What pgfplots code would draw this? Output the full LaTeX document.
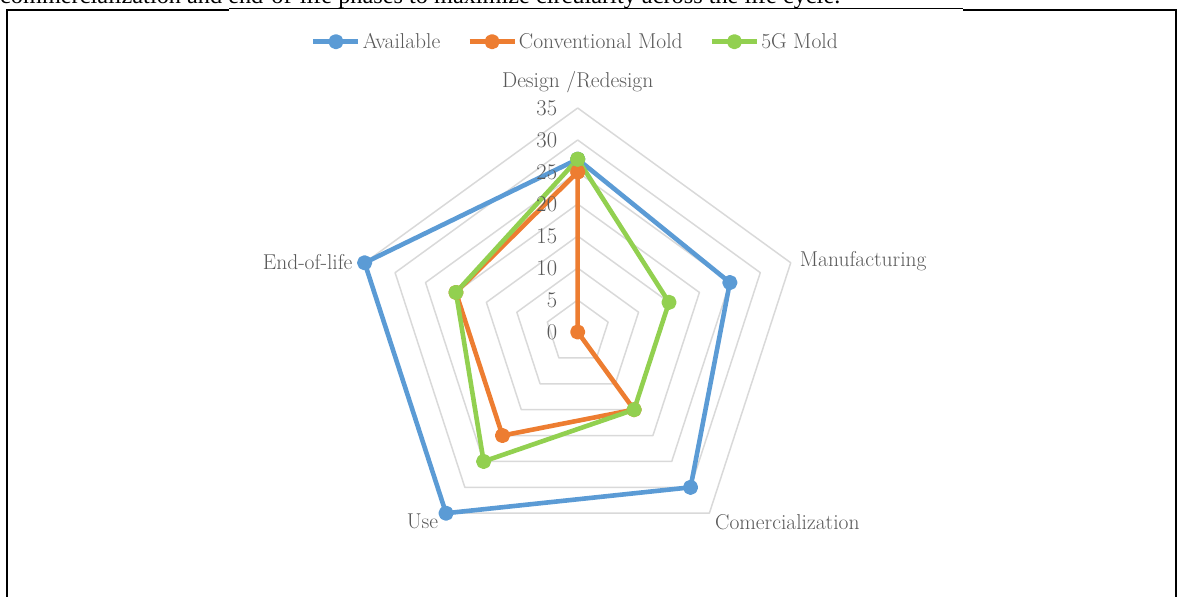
\documentclass[border=0pt]{standalone}
\usepackage{fontspec}
\newfontfamily\timesfont{Liberation Serif}
\usepackage{pgfplots}
\pgfplotsset{compat=1.18}
\usepgfplotslibrary{polar}
\usetikzlibrary{calc}

\definecolor{cAvail}{RGB}{91,155,213}
\definecolor{cConv}{RGB}{237,125,49}
\definecolor{cFive}{RGB}{146,208,80}
\definecolor{gridgray}{RGB}{217,217,217}
\definecolor{textgray}{RGB}{89,89,89}

\newcommand{\lblfont}{\fontsize{21.5}{25}\selectfont}
\newcommand{\tickfont}{\fontsize{22.5}{26}\selectfont}

\begin{document}
\begin{tikzpicture}[x=1pt,y=1pt]

\begin{polaraxis}[
  scale only axis, width=448pt, height=448pt,
  ymin=0, ymax=35,
  hide axis, clip=false,
  legend columns=3,
  legend style={at={(0.495,1.148)}, anchor=center, draw=none, fill=none,
    font=\lblfont, text=textgray,
    nodes={inner xsep=2pt},
    /tikz/every even column/.append style={column sep=25pt}},
  legend image code/.code={%
    \draw[mark repeat=2,mark phase=2] plot coordinates {(0pt,0pt)(22.5pt,0pt)(45pt,0pt)};},
  every axis plot/.append style={line join=round},
]

\coordinate (C) at (axis cs:0,0);

% pentagon grid, levels 5 ... 35
\addplot[gridgray, line width=1.5pt, forget plot] coordinates {(90,5)(18,5)(306,5)(234,5)(162,5)(90,5)};
\addplot[gridgray, line width=1.5pt, forget plot] coordinates {(90,10)(18,10)(306,10)(234,10)(162,10)(90,10)};
\addplot[gridgray, line width=1.5pt, forget plot] coordinates {(90,15)(18,15)(306,15)(234,15)(162,15)(90,15)};
\addplot[gridgray, line width=1.5pt, forget plot] coordinates {(90,20)(18,20)(306,20)(234,20)(162,20)(90,20)};
\addplot[gridgray, line width=1.5pt, forget plot] coordinates {(90,25)(18,25)(306,25)(234,25)(162,25)(90,25)};
\addplot[gridgray, line width=1.5pt, forget plot] coordinates {(90,30)(18,30)(306,30)(234,30)(162,30)(90,30)};
\addplot[gridgray, line width=1.5pt, forget plot] coordinates {(90,35)(18,35)(306,35)(234,35)(162,35)(90,35)};

% series: Design/Redesign, Manufacturing, Comercialization, Use, End-of-life
\addplot[cAvail, line width=4.6pt, mark=*, mark size=5.3pt, mark options={solid, fill=cAvail}]
  coordinates {(90,27)(18,25)(306,30)(234,35)(162,35)(90,27)};
\addlegendentry{Available}
\addplot[cConv, line width=4.6pt, mark=*, mark size=5.3pt, mark options={solid, fill=cConv}]
  coordinates {(90,25)(18,0)(306,15)(234,20)(162,20)(90,25)};
\addlegendentry{Conventional Mold}
\addplot[cFive, line width=4.6pt, mark=*, mark size=5.3pt, mark options={solid, fill=cFive}]
  coordinates {(90,27)(18,15)(306,15)(234,25)(162,20)(90,27)};
\addlegendentry{5G Mold}

% radial scale labels
\begin{scope}[every node/.style={anchor=east, inner sep=0, font=\tickfont, text=textgray, xshift=-20.4pt}]
  \node at (axis cs:90,0) {0};
  \node at (axis cs:90,5) {5};
  \node at (axis cs:90,10) {10};
  \node at (axis cs:90,15) {15};
  \node at (axis cs:90,20) {20};
  \node at (axis cs:90,25) {25};
  \node at (axis cs:90,30) {30};
  \node at (axis cs:90,35) {35};
\end{scope}

% category labels
\begin{scope}[every node/.style={inner sep=0, font=\lblfont, text=textgray}]
  \node[anchor=center, yshift=25.5pt] at (axis cs:90,35) {Design /Redesign};
  \node[anchor=west, xshift=9pt, yshift=2pt] at (axis cs:18,35) {Manufacturing};
  \node[anchor=west, xshift=5.6pt, yshift=-8.5pt] at (axis cs:306,35) {Comercialization};
  \node[anchor=east, xshift=-7.7pt, yshift=-8.5pt] at (axis cs:234,35) {Use};
  \node[anchor=east, xshift=-12pt, yshift=1pt] at (axis cs:162,35) {End-of-life};
\end{scope}

\end{polaraxis}

% page frame, placed around the chart centre
\begin{scope}[shift={($(C)+(-577.7,-265)$)}]
  \begin{scope}
    \clip (0,0) rectangle (1178,597);
    \node[anchor=base west, inner sep=0, font=\timesfont\fontsize{24.3}{27}\selectfont]
      at (0,593) {commercialization and end-of-life phases to maximize circularity across the life cycle.};
  \end{scope}
  \draw[line width=2pt] (7,0) -- (7,587) -- (229,587);
  \draw[line width=1pt] (229,588) -- (963,588);
  \draw[line width=2pt] (963,587) -- (1176,587) -- (1176,0);
  \pgfresetboundingbox
  \useasboundingbox (0,0) rectangle (1178,597);
\end{scope}
\end{tikzpicture}
\end{document}
